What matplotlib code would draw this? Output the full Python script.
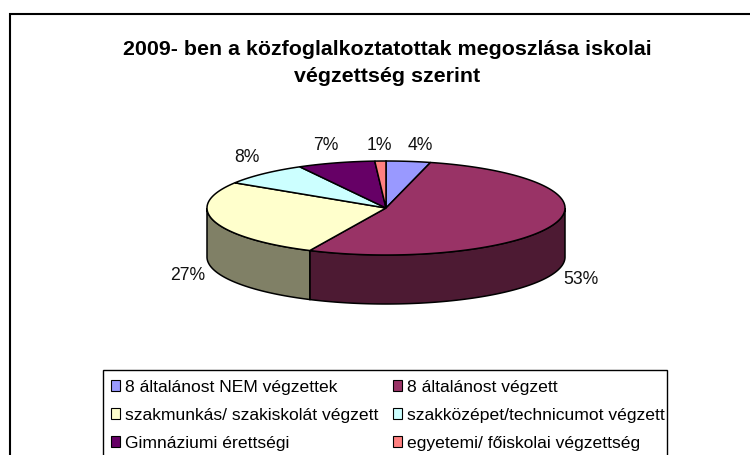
import numpy as np
import matplotlib
matplotlib.use("Agg")
import matplotlib.pyplot as plt
from matplotlib.patches import Polygon, Rectangle, Patch

plt.rcParams['font.family'] = ['Liberation Sans', 'DejaVu Sans']

title = "2009- ben a közfoglalkoztatottak megoszlása iskolai\nvégzettség szerint"
categories = ["8 általánost NEM végzettek", "8 általánost végzett",
              "szakmunkás/ szakiskolát végzett", "szakközépet/technicumot végzett",
              "Gimnáziumi érettségi", "egyetemi/ főiskolai végzettség"]
values = [4, 53, 27, 8, 7, 1]
top_colors = ["#9999FF", "#993366", "#FFFFCC", "#CCFFFF", "#660066", "#FF8080"]
side_colors = ["#4D4D80", "#4D1A33", "#808066", "#668080", "#330033", "#804040"]
label_xy = [(420, 145), (581, 279), (188, 276), (247, 157), (326, 146), (379, 145)]

W, H = 750, 455
CX, CY, RX, RY, DEPTH = 386, 208, 179, 47, 49

fig = plt.figure(figsize=(W / 100, H / 100), dpi=100)
ax = fig.add_axes([0, 0, 1, 1])
ax.set_xlim(0, W)
ax.set_ylim(H, 0)
ax.axis("off")

ax.add_patch(Rectangle((10, 14), 800, 500, fc="white", ec="black", lw=1.5, zorder=0))
ax.text(387, 63, title, ha="center", va="center", fontsize=15.4, fontweight="bold",
        linespacing=1.5)


def rim(a0, a1):
    t = np.radians(np.linspace(a0, a1, max(2, int(abs(a1 - a0) * 2))))
    return CX + RX * np.sin(t), CY - RY * np.cos(t)


edges = np.concatenate([[0], np.cumsum(values)]) / sum(values) * 360

# visible side walls
for a0, a1, col in zip(edges[:-1], edges[1:], side_colors):
    lo, hi = max(a0, 90), min(a1, 270)
    if hi <= lo:
        continue
    x, y = rim(lo, hi)
    pts = np.r_[np.c_[x, y], np.c_[x[::-1], y[::-1] + DEPTH]]
    ax.add_patch(Polygon(pts, closed=True, fc=col, ec="black", lw=1.1, zorder=2))

# top faces
for a0, a1, col in zip(edges[:-1], edges[1:], top_colors):
    x, y = rim(a0, a1)
    pts = np.r_[[[CX, CY]], np.c_[x, y]]
    ax.add_patch(Polygon(pts, closed=True, fc=col, ec="black", lw=1.1, zorder=3))

for (lx, ly), v in zip(label_xy, values):
    ax.text(lx, ly, f"{v}%", ha="center", va="center", fontsize=12.7, color="#111111", zorder=4)

# legend frame runs off the bottom of the picture, as in the reference
ax.add_patch(Rectangle((103, 370), 564, 120, fc="white", ec="black", lw=1.0, zorder=5))

# matplotlib fills legend columns first; the reference reads row by row
order = [0, 2, 4, 1, 3, 5]
handles = [Patch(fc=top_colors[i], ec="black", lw=0.8) for i in order]
labels = [categories[i] for i in order]
leg = ax.legend(handles, labels, ncols=2, loc="upper left",
                bbox_to_anchor=(103, 372), bbox_transform=ax.transData,
                fontsize=12.6, frameon=False,
                borderpad=0.44, labelspacing=0.745,
                handlelength=0.54, handleheight=0.54, handletextpad=0.29,
                columnspacing=0.8, borderaxespad=0)
leg.set_zorder(6)

fig.savefig("out.png", dpi=100)
